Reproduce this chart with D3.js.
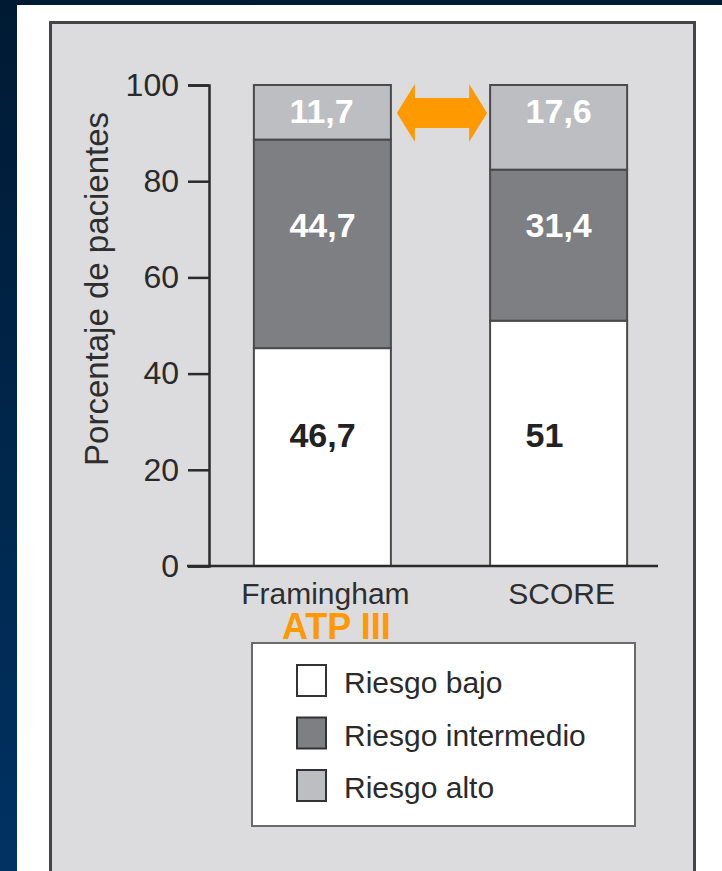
<!DOCTYPE html>
<html>
<head>
<meta charset="utf-8">
<script src="https://cdn.jsdelivr.net/npm/d3@7"></script>
<style>
  html, body { margin: 0; padding: 0; background: #001a33; }
  svg { display: block; }
</style>
</head>
<body>
<svg id="chart" width="722" height="871"></svg>
<script>
// ---- data ----
const categories = ["Framingham", "SCORE"];
const seriesNames = ["Riesgo bajo", "Riesgo intermedio", "Riesgo alto"];
const bajo = [46.7, 51];
const intermedio = [44.7, 31.4];
const alto = [11.7, 17.6];
const yTicks = [0, 20, 40, 60, 80, 100];
const subtitle = "ATP III";
const yTitle = "Porcentaje de pacientes";

// ---- styles / layout ----
const colors = ["#ffffff", "#7e7f83", "#bdbec1"];
const labelColors = ["#222222", "#ffffff", "#ffffff"];
const labelLevel = [24.7, 68.4, 92.1];   // baseline position of value labels (axis units)
const W = 722, H = 871;
const svg = d3.select("#chart");
const font = "'Liberation Sans', Arial, sans-serif";

// background
const defs = svg.append("defs");
const grad = defs.append("linearGradient").attr("id", "bg").attr("x1", 0).attr("y1", 0).attr("x2", 0).attr("y2", 1);
grad.append("stop").attr("offset", "0").attr("stop-color", "#001a33");
grad.append("stop").attr("offset", "1").attr("stop-color", "#003263");
svg.append("rect").attr("width", W).attr("height", H).attr("fill", "url(#bg)");
svg.append("rect").attr("x", 17).attr("y", 5).attr("width", W - 17).attr("height", H - 5).attr("fill", "#ffffff");
svg.append("rect").attr("x", 50.5).attr("y", 22.5).attr("width", 644).attr("height", H + 10)
  .attr("fill", "#dcdcde").attr("stroke", "#454545").attr("stroke-width", 3);

// scales
const x = d3.scaleBand().domain(categories).range([209, 672]).paddingInner(0.42).paddingOuter(0.19);
const y = d3.scaleLinear().domain([0, 100]).range([566, 85]);

// normalized stacking
const seriesVals = [bajo, intermedio, alto];
const rows = categories.map((c, i) => {
  const tot = seriesVals.reduce((s, a) => s + a[i], 0);
  const r = { cat: c };
  seriesVals.forEach((a, k) => { r["s" + k] = a[i] / tot * 100; r["v" + k] = a[i]; });
  return r;
});
const stack = d3.stack().keys(["s0", "s1", "s2"]);
const layers = stack(rows);

const g = svg.append("g");
layers.forEach((layer, k) => {
  g.selectAll(null).data(layer).enter().append("rect")
    .attr("x", d => x(d.data.cat))
    .attr("width", x.bandwidth())
    .attr("y", d => y(d[1]))
    .attr("height", d => y(d[0]) - y(d[1]))
    .attr("fill", colors[k])
    .attr("stroke", "#4a4a4a")
    .attr("stroke-width", 2);
});

// value labels
layers.forEach((layer, k) => {
  g.selectAll(null).data(layer).enter().append("text")
    .attr("x", d => x(d.data.cat) + x.bandwidth() / 2 - 33)
    .attr("y", y(labelLevel[k]))
    .attr("text-anchor", "start")
    .attr("font-family", font)
    .attr("font-weight", "bold")
    .attr("font-size", 34)
    .attr("fill", labelColors[k])
    .text(d => String(d.data["v" + k]).replace(".", ","));
});

// y axis
const yAxis = d3.axisLeft(y).tickValues(yTicks).tickSize(21).tickPadding(9).tickFormat(d3.format("d"));
const ax = svg.append("g").attr("transform", "translate(209,0)").call(yAxis);
ax.selectAll("path, line").attr("stroke", "#2a2a2a").attr("stroke-width", 2.5);
ax.selectAll("text").attr("font-family", font).attr("font-size", 32).attr("fill", "#2a2a2a");

// baseline
svg.append("line").attr("x1", 187).attr("x2", 658).attr("y1", y(0)).attr("y2", y(0))
  .attr("stroke", "#2a2a2a").attr("stroke-width", 2.5);

// x category labels
svg.selectAll(null).data(categories).enter().append("text")
  .attr("x", d => x(d) + x.bandwidth() / 2 + 3)
  .attr("y", 604)
  .attr("text-anchor", "middle")
  .attr("font-family", font).attr("font-size", 30).attr("fill", "#2e2e2e")
  .text(d => d);

// subtitle
svg.append("text")
  .attr("x", x(categories[0]) + x.bandwidth() / 2 + 14)
  .attr("y", 639)
  .attr("text-anchor", "middle")
  .attr("font-family", font).attr("font-weight", "bold").attr("font-size", 36)
  .attr("fill", "#ff9900")
  .text(subtitle);

// y title
svg.append("text")
  .attr("transform", `translate(108,${y(57.6)}) rotate(-90)`)
  .attr("text-anchor", "middle")
  .attr("font-family", font).attr("font-size", 33).attr("fill", "#2e2e2e")
  .text(yTitle);

// double arrow between the two high-risk segments
const ax1 = x(categories[0]) + x.bandwidth() + 6;
const ax2 = x(categories[1]) - 3;
const yc = y(94.2);
const headL = 18, headH = 29, shaftH = 15;
const arrow = d3.path();
arrow.moveTo(ax1, yc);
arrow.lineTo(ax1 + headL, yc - headH);
arrow.lineTo(ax1 + headL, yc - shaftH);
arrow.lineTo(ax2 - headL, yc - shaftH);
arrow.lineTo(ax2 - headL, yc - headH);
arrow.lineTo(ax2, yc);
arrow.lineTo(ax2 - headL, yc + headH);
arrow.lineTo(ax2 - headL, yc + shaftH);
arrow.lineTo(ax1 + headL, yc + shaftH);
arrow.lineTo(ax1 + headL, yc + headH);
arrow.closePath();
svg.append("path").attr("d", arrow.toString()).attr("fill", "#ff9900");

// legend
const lg = svg.append("g");
lg.append("rect").attr("x", 252).attr("y", 643).attr("width", 383).attr("height", 183)
  .attr("fill", "#ffffff").attr("stroke", "#6a6a6a").attr("stroke-width", 2);
const legendRow = d3.scalePoint().domain(seriesNames).range([693, 798]);
seriesNames.forEach((name, k) => {
  const by = legendRow(name);
  lg.append("rect").attr("x", 297).attr("y", by - 28).attr("width", 29).attr("height", 31)
    .attr("fill", colors[k]).attr("stroke", "#333333").attr("stroke-width", 2);
  lg.append("text").attr("x", 344).attr("y", by)
    .attr("font-family", font).attr("font-size", 30).attr("fill", "#2a2a2a")
    .text(name);
});
</script>
</body>
</html>
